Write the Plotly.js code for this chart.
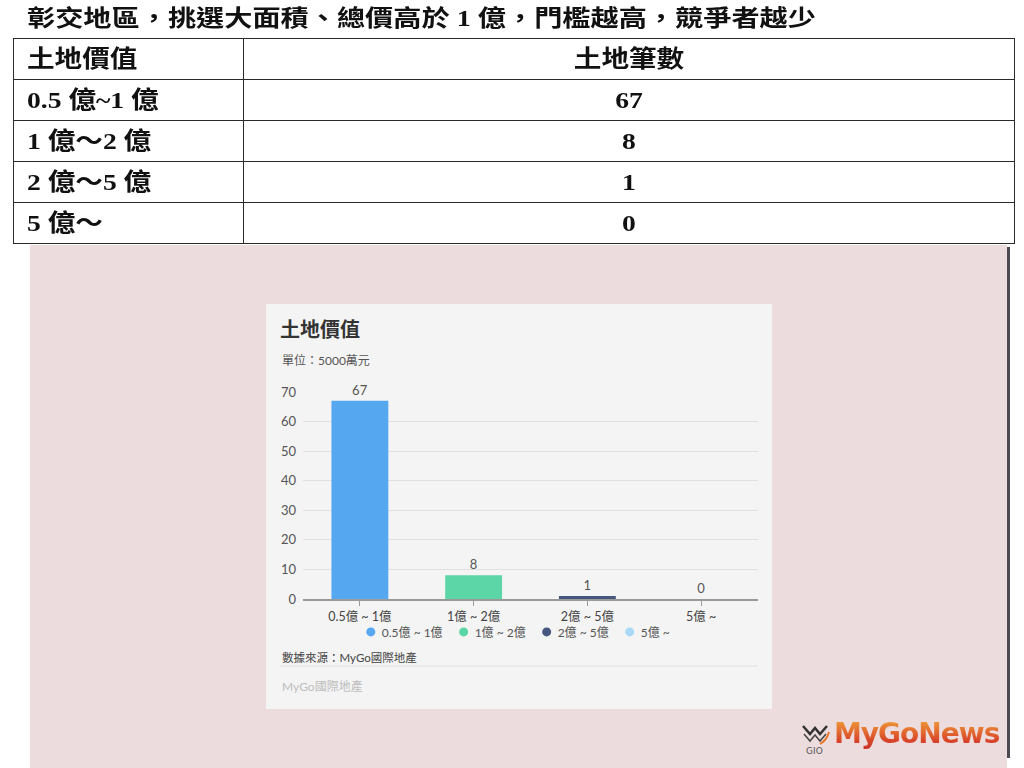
<!DOCTYPE html>
<html>
<head>
<meta charset="utf-8">
<script src="https://cdn.plot.ly/plotly-3.0.1.min.js"></script>
<style>
  html, body { margin:0; padding:0; }
  body { width:1024px; height:768px; background:#ffffff; position:relative; overflow:hidden; }
  .serif { font-family:"Liberation Serif","Noto Sans CJK TC",serif; font-weight:700; color:#111; }
  #headline { position:absolute; left:27px; top:4px; font-size:23px; line-height:30px; white-space:nowrap; }
  .sx { display:inline-block; transform:scaleX(1.225); transform-origin:left center; white-space:nowrap; }
  .sxc { display:inline-block; transform:scaleX(1.15); transform-origin:center center; white-space:nowrap; }
  .sxl { display:inline-block; transform:scaleX(1.15); transform-origin:left center; white-space:nowrap; }
  #tbl { position:absolute; left:13px; top:38px; width:1002px; border-collapse:collapse; font-size:24px; }
  #tbl td { border:1.5px solid #2a2a2a; height:40px; padding:0; line-height:40px; }
  #tbl td.c1 { width:216px; padding-left:13px; text-align:left; }
  #tbl td.c2 { text-align:center; }
  #pink { position:absolute; left:30px; top:245px; width:977px; height:523px; background:#eddcdd; }
  #vline { position:absolute; left:1007px; top:247px; width:3px; height:511px; background:#4a4a50; }
  #card { position:absolute; left:266px; top:304px; width:506px; height:405px; background:#f4f4f4; }
  #chart { position:absolute; left:0; top:0; width:506px; height:405px; }
  #logo { position:absolute; left:834px; top:717px; font-family:"DejaVu Sans",sans-serif; font-weight:700; font-size:28px; letter-spacing:-1px; line-height:34px; white-space:nowrap;
          background:linear-gradient(#f2a83a, #d8452a 70%, #c8302a); -webkit-background-clip:text; background-clip:text; color:transparent; }
  #logoicon { position:absolute; left:800px; top:722px; }
</style>
</head>
<body>
<div id="headline" class="serif"><span class="sx" id="headlineText"></span></div>
<table id="tbl" class="serif"><tbody id="tbody"></tbody></table>
<div id="pink"></div>
<div id="vline"></div>
<div id="card"><div id="chart"></div></div>
<svg id="logoicon" width="32" height="34" viewBox="0 0 32 34">
  <polyline points="3,4 10,12 15,6 20,12 27,4" fill="none" stroke="#333" stroke-width="2.5"/>
  <polyline points="4,12 10,19 15,13 20,19 26,12" fill="none" stroke="#444" stroke-width="1.5"/>
  <path d="M20,22 Q27,18 29,10" fill="none" stroke="#e8782a" stroke-width="2"/>
  <text x="6" y="32" font-family="DejaVu Sans" font-size="9" fill="#555">GIO</text>
</svg>
<div id="logo">MyGoNews</div>
<script>
// ---- data ----
const headline = "彰交地區，挑選大面積、總價高於 1 億，門檻越高，競爭者越少";
const tableHeader = ["土地價值", "土地筆數"];
const tableRanges = ["0.5 億~1 億", "1 億～2 億", "2 億～5 億", "5 億～"];
const categories = ["0.5億 ~ 1億", "1億 ~ 2億", "2億 ~ 5億", "5億 ~"];
const counts = [67, 8, 1, 0];
const barColors = ["#55a7ef", "#5cd6a7", "#46577f", "#a9d9f7"];
const chartTitle = "土地價值";
const chartUnit = "單位：5000萬元";
const chartSource = "數據來源：MyGo國際地產";
const chartWatermark = "MyGo國際地產";

// ---- html table ----
document.getElementById("headlineText").textContent = headline;
const tbody = document.getElementById("tbody");
function addRow(a, b) {
  const tr = document.createElement("tr");
  const td1 = document.createElement("td"); td1.className = "c1";
  const s1 = document.createElement("span"); s1.className = "sxl"; s1.textContent = a; td1.appendChild(s1);
  const td2 = document.createElement("td"); td2.className = "c2";
  const s2 = document.createElement("span"); s2.className = "sxc"; s2.textContent = b; td2.appendChild(s2);
  tr.appendChild(td1); tr.appendChild(td2); tbody.appendChild(tr);
}
addRow(tableHeader[0], tableHeader[1]);
tableRanges.forEach((r, i) => addRow(r, String(counts[i])));

// ---- chart ----
const FONT = "Lato, 'Noto Sans CJK TC', sans-serif";
const traces = [{
  type: "bar",
  x: categories,
  y: counts,
  width: 0.5,
  marker: { color: barColors },
  text: counts.map(String),
  textposition: "outside",
  cliponaxis: false,
  textfont: { family: FONT, size: 13, color: "#555" },
  showlegend: false,
  hoverinfo: "none"
}];
categories.forEach((c, i) => {
  traces.push({
    type: "scatter", mode: "markers",
    x: [null], y: [null],
    name: c,
    marker: { color: barColors[i], size: 9, symbol: "circle" },
    showlegend: true
  });
});

const layout = {
  width: 506, height: 405,
  margin: { l: 37, r: 14, t: 88, b: 110 },
  paper_bgcolor: "#f4f4f4",
  plot_bgcolor: "#f4f4f4",
  font: { family: FONT, color: "#555" },
  title: {
    text: chartTitle,
    x: 14 / 506, xanchor: "left", xref: "container",
    y: 1 - 26 / 405, yanchor: "middle", yref: "container",
    font: { family: "'Noto Sans CJK TC', sans-serif", size: 20, color: "#333", weight: 700 }
  },
  xaxis: {
    type: "category",
    range: [-0.5, 3.5],
    showline: true, linecolor: "#9a9a9a", linewidth: 1.5,
    ticks: "outside", ticklen: 5, tickcolor: "#9a9a9a", tickwidth: 1,
    showgrid: false,
    tickfont: { family: FONT, size: 12.5, color: "#444" }
  },
  yaxis: {
    range: [0, 70], dtick: 10,
    showgrid: true, gridcolor: "#e0e0e0", gridwidth: 1,
    zeroline: false, showline: false, ticks: "",
    ticklabelstandoff: 6,
    tickfont: { family: FONT, size: 13, color: "#555" }
  },
  showlegend: true,
  legend: {
    orientation: "h", x: 0.5, xanchor: "center",
    y: -0.159, yanchor: "middle",
    font: { family: FONT, size: 12, color: "#555" },
    bgcolor: "rgba(0,0,0,0)",
    itemwidth: 30
  },
  annotations: [
    { text: chartUnit, xref: "paper", yref: "paper", x: -0.0505, y: 1.1498, xanchor: "left", yanchor: "middle",
      showarrow: false, font: { family: FONT, size: 12, color: "#555" } },
    { text: chartSource, xref: "paper", yref: "paper", x: -0.0505, y: -0.2802, xanchor: "left", yanchor: "middle",
      showarrow: false, font: { family: FONT, size: 11.5, color: "#444" } },
    { text: chartWatermark, xref: "paper", yref: "paper", x: -0.0505, y: -0.4203, xanchor: "left", yanchor: "middle",
      showarrow: false, font: { family: FONT, size: 12, color: "#bdbdbd" } }
  ],
  shapes: [
    { type: "line", xref: "paper", yref: "paper", x0: -0.0505, x1: 1, y0: -0.3237, y1: -0.3237,
      line: { color: "#e2e2e2", width: 1 } }
  ]
};

Plotly.newPlot("chart", traces, layout, { displayModeBar: false, staticPlot: true }).then(gd => {
  // tighten legend spacing to match the reference (symbol-to-text gap and item pitch)
  const items = Array.from(gd.querySelectorAll(".legend .traces"));
  if (!items.length) return;
  const TEXT_X = 31, PITCH_EXTRA = 32, TARGET_CENTER = 518 - 266;
  const widths = items.map(it => {
    const t = it.querySelector(".legendtext");
    t.setAttribute("x", TEXT_X);
    return t.getComputedTextLength();
  });
  const ys = items.map(it => {
    const m = /translate\(\s*([-\d.e]+)[\s,]+([-\d.e]+)\s*\)/.exec(it.getAttribute("transform") || "");
    return m ? parseFloat(m[2]) : 0;
  });
  const xs = []; let x = 0;
  items.forEach((it, i) => { xs.push(x); x += PITCH_EXTRA + widths[i]; });
  const spanLeft = 20 - 4.5;
  const spanRight = xs[xs.length - 1] + TEXT_X + widths[widths.length - 1];
  const parentCTM = items[0].parentNode.getCTM();
  const svgCTM = gd.querySelector(".main-svg").getCTM();
  const originX = parentCTM.e - (svgCTM ? svgCTM.e : 0);
  const offset = TARGET_CENTER - originX - (spanLeft + spanRight) / 2;
  items.forEach((it, i) => it.setAttribute("transform", `translate(${xs[i] + offset},${ys[i]})`));
});
</script>
</body>
</html>
